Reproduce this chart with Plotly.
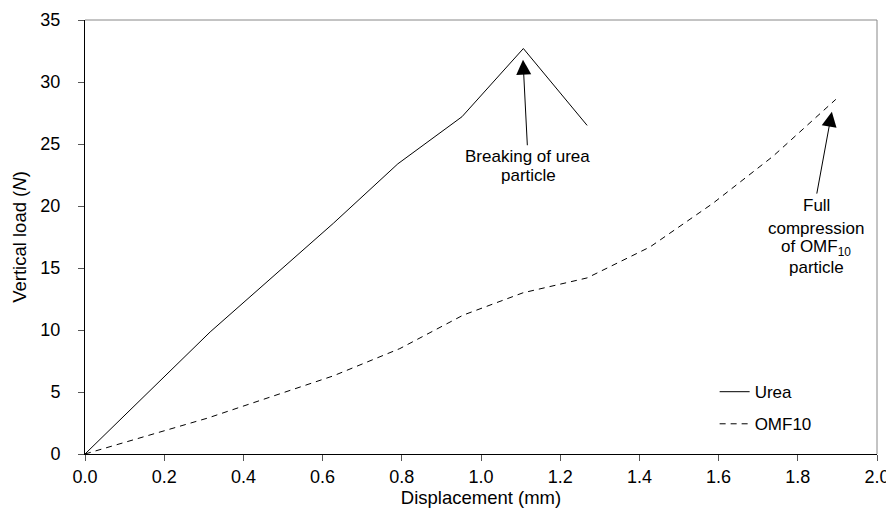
import plotly.graph_objects as go

urea_x = [0.0, 0.316, 0.627, 0.790, 0.952, 1.107, 1.268]
urea_y = [0.0, 9.84, 18.6, 23.4, 27.2, 32.7, 26.5]

omf_x = [0.0, 0.31, 0.627, 0.795, 0.955, 1.106, 1.268, 1.427, 1.585, 1.737, 1.896]
omf_y = [0.0, 2.9, 6.3, 8.5, 11.2, 13.0, 14.2, 16.7, 20.2, 24.0, 28.6]

x_ticks = [0.0, 0.2, 0.4, 0.6, 0.8, 1.0, 1.2, 1.4, 1.6, 1.8, 2.0]
y_ticks = [0, 5, 10, 15, 20, 25, 30, 35]

FONT = "Arial, Liberation Sans, sans-serif"
AFONT = dict(size=17, color="black", family=FONT)

fig = go.Figure()
fig.add_trace(go.Scatter(x=urea_x, y=urea_y, mode="lines", name="Urea",
                         line=dict(color="black", width=1), legendgroup="a"))
fig.add_trace(go.Scatter(x=omf_x, y=omf_y, mode="lines", name="OMF10",
                         line=dict(color="black", width=1, dash="6px,5px"), legendgroup="b"))

# arrows carrying the first text line
fig.add_annotation(x=1.106, y=31.8, ax=1.117, ay=24.9, xref="x", yref="y", axref="x", ayref="y",
                   text="Breaking of urea", yanchor="top", align="center",
                   showarrow=True, arrowhead=2, arrowsize=3, arrowwidth=1, arrowcolor="black",
                   font=AFONT)
fig.add_annotation(x=1.119, y=22.5, xref="x", yref="y", text="particle", showarrow=False,
                   font=AFONT)

fig.add_annotation(x=1.886, y=27.6, ax=1.848, ay=21.0, xref="x", yref="y", axref="x", ayref="y",
                   text="Full", yanchor="top", align="center",
                   showarrow=True, arrowhead=2, arrowsize=3, arrowwidth=1, arrowcolor="black",
                   font=AFONT)
fig.add_annotation(x=1.846, y=18.2, xref="x", yref="y", text="compression", showarrow=False,
                   font=AFONT)
fig.add_annotation(x=1.846, y=16.6, xref="x", yref="y", text="of OMF<sub>10</sub>", showarrow=False,
                   font=AFONT)
fig.add_annotation(x=1.846, y=15.05, xref="x", yref="y", text="particle", showarrow=False,
                   font=AFONT)

# gray frame top/right
fig.add_shape(type="line", xref="paper", yref="paper", x0=0, x1=1, y0=1, y1=1,
              line=dict(color="#888888", width=1))
fig.add_shape(type="line", xref="paper", yref="paper", x0=1, x1=1, y0=0, y1=1,
              line=dict(color="#888888", width=1))

# page body has an 8px margin: compensate in figure size / margins
fig.update_layout(
    width=886, height=517,
    margin=dict(l=77, r=17, t=12, b=71),
    paper_bgcolor="white", plot_bgcolor="white",
    font=dict(family=FONT, size=18, color="black"),
    showlegend=True,
    legend=dict(x=0.795, y=0.184, xanchor="left", yanchor="top", bgcolor="rgba(0,0,0,0)",
                font=dict(size=17), traceorder="grouped", tracegroupgap=7),
    xaxis=dict(range=[0, 2.0], tickvals=x_ticks, ticktext=[f"{v:.1f}" for v in x_ticks],
               showgrid=False, zeroline=False, showline=True, linecolor="black", linewidth=1,
               ticks="outside", ticklen=6, tickcolor="#555555", automargin=False,
               tickfont=dict(size=18),
               title=dict(text="Displacement (mm)", standoff=5, font=dict(size=18.5))),
    yaxis=dict(range=[0, 35], tickvals=y_ticks, showgrid=False, zeroline=False,
               showline=True, linecolor="black", linewidth=1,
               ticks="outside", ticklen=6, tickcolor="#555555", automargin=False,
               tickfont=dict(size=18), ticklabelstandoff=14,
               title=dict(text="Vertical load (<i>N</i>)", standoff=8, font=dict(size=18.5))),
)

fig.write_html("out.html")
